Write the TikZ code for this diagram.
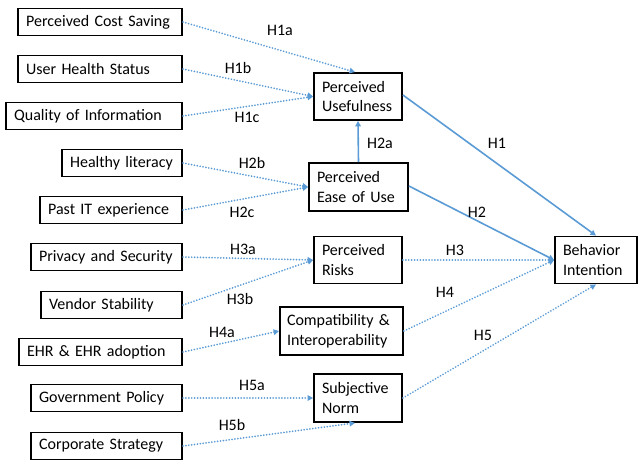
\documentclass[tikz,border=0pt]{standalone}
\usepackage{fontspec}
\setmainfont{Carlito}
\usetikzlibrary{arrows.meta}
\definecolor{arrblue}{HTML}{5B9BD5}
\begin{document}
\begin{tikzpicture}[x=1pt,y=-1pt,
  every node/.style={font=\fontsize{16}{19.5}\selectfont},
  box/.style={draw=black, line width=1.8pt, align=left, inner xsep=8pt, inner ysep=0pt,
    execute at begin node={\hyphenpenalty=10000\exhyphenpenalty=10000}},
  lbox/.style={box, minimum height=27pt, anchor=east},
  mbox/.style={box, minimum height=47pt},
  dotarr/.style={draw=arrblue, line width=1.9pt, line cap=round, dash pattern=on 0.01pt off 2.9pt, -{Triangle[length=5.5pt,width=5.5pt,line cap=butt]}},
  solarr/.style={draw=arrblue, line width=1.6pt, -{Triangle[length=5.5pt,width=5.5pt]}},
  lab/.style={inner sep=0pt}]
\useasboundingbox (0,0) rectangle (638,459);
% left boxes
\node[lbox, text width=148pt] (pcs) at (183,22) {Perceived Cost Saving};
\node[lbox, text width=148pt] (uhs) at (183,69) {User Health Status};
\node[lbox, text width=160pt] (qoi) at (183,116) {Quality of Information};
\node[lbox, text width=104pt] (hl) at (183,163) {Healthy literacy};
\node[lbox, text width=126pt] (pit) at (183,210) {Past IT experience};
\node[lbox, text width=135pt] (ps) at (183,257) {Privacy and Security};
\node[lbox, text width=125pt] (vs) at (183,305) {Vendor Stability};
\node[lbox, text width=147pt] (ehr) at (183,352) {EHR \& EHR adoption};
\node[lbox, text width=135pt] (gp) at (183,398) {Government Policy};
\node[lbox, text width=135pt] (cs) at (183,446) {Corporate Strategy};
% middle boxes
\node[mbox, text width=72pt] (pu) at (358,96.5) {Perceived\\Usefulness};
\node[mbox, text width=83pt, minimum height=48pt] (peu) at (358.5,187) {Perceived\\Ease of Use};
\node[mbox, text width=72pt] (pr) at (358,260) {Perceived\\Risks};
\node[mbox, text width=109pt, inner xsep=7pt, minimum height=48pt] (ci) at (341.5,331) {Compatibility \&\\Interoperability};
\node[mbox, text width=72pt, minimum height=48pt] (sn) at (358,398) {Subjective\\Norm};
\node[mbox, text width=66pt] (bi) at (596,260) {Behavior\\Intention};
% dotted connectors
\draw[dotarr] (pcs.east) -- ([xshift=-3pt]pu.north);
\draw[dotarr] (uhs.east) -- (pu.west);
\draw[dotarr] (qoi.east) -- (pu.west);
\draw[dotarr] (hl.east) -- (peu.west);
\draw[dotarr] (pit.east) -- (peu.west);
\draw[dotarr] (ps.east) -- (pr.west);
\draw[dotarr] (vs.east) -- (pr.west);
\draw[dotarr] (ehr.east) -- (ci.west);
\draw[dotarr] (gp.east) -- (sn.west);
\draw[dotarr] (cs.east) -- ([xshift=-3pt]sn.south);
\draw[dotarr] (pr.east) -- (bi.west);
\draw[dotarr] (ci.east) -- (bi.west);
\draw[dotarr] (sn.east) -- (bi.south);
% solid connectors
\draw[solarr] (peu.north) -- (pu.south);
\draw[solarr] ([yshift=1.5pt]pu.east) -- (bi.north);
\draw[solarr] ([yshift=1pt]peu.east) -- (bi.west);
% labels
\node[lab] (l1a) at (280,30) {H1a};
\node[lab] (l1b) at (238,68) {H1b};
\node[lab] (l1c) at (247,117) {H1c};
\node[lab] (l2b) at (252,163) {H2b};
\node[lab] (l2c) at (242,212) {H2c};
\node[lab] (l3a) at (243,249) {H3a};
\node[lab] (l3b) at (240,299) {H3b};
\node[lab] (l4a) at (222,332) {H4a};
\node[lab] (l5a) at (252,385) {H5a};
\node[lab] (l5b) at (232,425) {H5b};
\node[lab] (l2a) at (380,143) {H2a};
\node[lab] (l1) at (497,143) {H1};
\node[lab] (l2) at (477,212) {H2};
\node[lab] (l3) at (455,250) {H3};
\node[lab] (l4) at (445,292) {H4};
\node[lab] (l5) at (483,335) {H5};
\end{tikzpicture}
\end{document}
